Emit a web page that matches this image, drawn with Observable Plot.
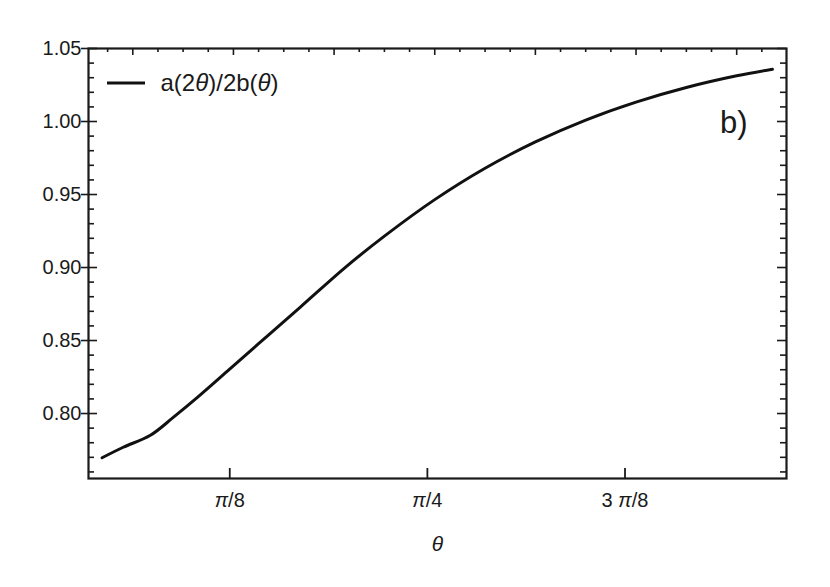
<!DOCTYPE html>
<html>
<head>
<meta charset="utf-8">
<script src="https://cdn.jsdelivr.net/npm/d3@7"></script>
<script src="https://cdn.jsdelivr.net/npm/@observablehq/plot@0.6"></script>
<style>
  html, body { margin: 0; padding: 0; background: #fff; }
  #chart svg { display: block; }
</style>
</head>
<body>
<div id="chart"></div>
<script>
// Data
const theta = [0.139, 0.181, 0.235, 0.281, 0.329, 0.388, 0.458, 0.533, 0.623, 0.700, 0.800, 0.900, 1.000, 1.100, 1.200, 1.300, 1.400, 1.471];
const ratio = [0.7697, 0.7769, 0.7851, 0.7975, 0.8112, 0.8290, 0.8503, 0.8729, 0.9003, 0.9215, 0.9465, 0.9680, 0.9860, 1.0010, 1.0133, 1.0233, 1.0313, 1.0358];

const yMajorTicks = [0.80, 0.85, 0.90, 0.95, 1.00, 1.05];
const yTickLabels = ["0.80", "0.85", "0.90", "0.95", "1.00", "1.05"];
const xBottomTicks = [Math.PI / 8, Math.PI / 4, 3 * Math.PI / 8];
const xBottomLabels = ["π/8", "π/4", "3 π/8"];
const xTopMajorTicks = [0.2, 0.4, 0.6, 0.8, 1.0, 1.2, 1.4];
const seriesName = "a(2θ)/2b(θ)";
const xLabel = "θ";
const panelLabel = "b)";

const xDomain = [0.112, 1.499];
const yDomain = [0.7555, 1.05];

const W = 830, H = 587;
const mL = 88, mR = 44, mT = 48, mB = 109;
const pw = W - mL - mR, ph = H - mT - mB;

const yMinorTicks = d3.range(76, 105).map(v => v / 100).filter(v => !yMajorTicks.some(m => Math.abs(m - v) < 1e-9));
const xTopMinorTicks = d3.range(3, 30).map(v => v * 0.05).filter(v => !xTopMajorTicks.some(m => Math.abs(m - v) < 1e-9) && v > xDomain[0] && v < xDomain[1]);

const data = theta.map((t, i) => ({t, r: ratio[i]}));
const ink = "#1a1a1a";

const plot = Plot.plot({
  width: W, height: H,
  marginLeft: mL, marginRight: mR, marginTop: mT, marginBottom: mB,
  style: {fontFamily: "'Liberation Sans', Arial, sans-serif", background: "#fff", color: ink},
  x: {domain: xDomain, axis: null},
  y: {domain: yDomain, axis: null},
  marks: [
    // left ticks (inward minor, crossing major)
    Plot.tickY(yMinorTicks, {y: d => d, insetRight: pw - 6, stroke: ink, strokeWidth: 1.6}),
    Plot.tickY(yMajorTicks, {y: d => d, insetLeft: -7, insetRight: pw - 9, stroke: ink, strokeWidth: 1.6}),
    // right ticks (inward)
    Plot.tickY(yMinorTicks, {y: d => d, insetLeft: pw - 6, stroke: ink, strokeWidth: 1.6}),
    Plot.tickY(yMajorTicks, {y: d => d, insetLeft: pw - 9, stroke: ink, strokeWidth: 1.6}),
    // top ticks (radians, inward)
    Plot.tickX(xTopMinorTicks, {x: d => d, insetBottom: ph - 4, stroke: ink, strokeWidth: 1.6}),
    Plot.tickX(xTopMajorTicks, {x: d => d, insetBottom: ph - 7, stroke: ink, strokeWidth: 1.6}),
    // bottom ticks
    Plot.tickX(xBottomTicks, {x: d => d, insetTop: ph - 10, stroke: ink, strokeWidth: 1.8}),
    // y tick labels
    Plot.text(yMajorTicks, {y: d => d, text: (d, i) => yTickLabels[i], frameAnchor: "left", dx: -7, textAnchor: "end", fontSize: 20, fill: ink}),
    // x tick labels
    Plot.text(xBottomTicks, {x: d => d, text: (d, i) => xBottomLabels[i], frameAnchor: "bottom", dy: 22, lineAnchor: "middle", fontSize: 20, fill: ink}),
    // axis label
    Plot.text([xLabel], {text: d => d, frameAnchor: "bottom", dy: 66, lineAnchor: "middle", fontSize: 21, fontStyle: "italic", fill: ink}),
    // legend text
    Plot.text([seriesName], {text: d => d, frameAnchor: "top-left", dx: 72, dy: 35, textAnchor: "start", lineAnchor: "middle", fontSize: 24, fill: ink}),
    // panel label
    Plot.text([panelLabel], {text: d => d, frameAnchor: "top-right", dx: -39, dy: 84, textAnchor: "end", lineAnchor: "bottom", fontSize: 31, fill: ink}),
    // curve
    Plot.line(data, {x: "t", y: "r", curve: "catmull-rom", stroke: "#111", strokeWidth: 3}),
    Plot.frame({stroke: ink, strokeWidth: 2.2})
  ]
});

// legend swatch
d3.select(plot).append("line")
  .attr("x1", mL + 19).attr("x2", mL + 57)
  .attr("y1", mT + 35).attr("y2", mT + 35)
  .attr("stroke", "#111").attr("stroke-width", 3);

// italicise Greek letters
d3.select(plot).selectAll("text").each(function() {
  const txt = this.textContent;
  if (!/[θπ]/.test(txt)) return;
  const el = d3.select(this);
  el.text(null);
  const parts = txt.split(/([θπ])/).filter(s => s.length);
  for (const p of parts) {
    const ts = el.append("tspan").text(p);
    if (p === "θ" || p === "π") ts.attr("font-style", "italic");
  }
});

document.getElementById("chart").appendChild(plot);
</script>
</body>
</html>
